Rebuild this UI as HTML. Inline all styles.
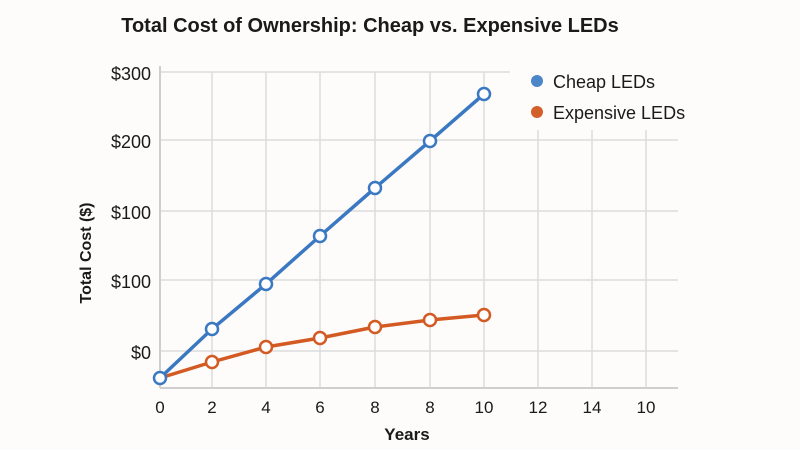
<!DOCTYPE html>
<html><head><meta charset="utf-8"><style>
html,body{margin:0;padding:0;background:#fdfcfa;}
svg{display:block;font-family:"Liberation Sans",sans-serif;}
</style></head><body>
<svg width="800" height="450" viewBox="0 0 800 450">
<rect width="800" height="450" fill="#fdfcfa"/>
<text x="370" y="32" text-anchor="middle" font-size="20" font-weight="bold" fill="#1a1a1a">Total Cost of Ownership: Cheap vs. Expensive LEDs</text>
<g stroke="#dcdcdc" stroke-width="1.5">
<line x1="160" y1="72" x2="510" y2="72"/>
<line x1="160" y1="140" x2="678" y2="140"/>
<line x1="160" y1="211" x2="678" y2="211"/>
<line x1="160" y1="280" x2="678" y2="280"/>
<line x1="160" y1="351" x2="678" y2="351"/>
<line x1="212" y1="72" x2="212" y2="388"/>
<line x1="266" y1="72" x2="266" y2="388"/>
<line x1="320" y1="72" x2="320" y2="388"/>
<line x1="375" y1="72" x2="375" y2="388"/>
<line x1="430" y1="72" x2="430" y2="388"/>
<line x1="484" y1="72" x2="484" y2="388"/>
<line x1="538" y1="130" x2="538" y2="388"/>
<line x1="592" y1="130" x2="592" y2="388"/>
<line x1="646" y1="130" x2="646" y2="388"/>
</g>
<line x1="160" y1="66" x2="160" y2="388" stroke="#cfcfcf" stroke-width="2"/>
<line x1="160" y1="388" x2="678" y2="388" stroke="#cfcfcf" stroke-width="2"/>
<g font-size="18" fill="#1a1a1a" text-anchor="end">
<text x="151" y="80">$300</text>
<text x="151" y="148">$200</text>
<text x="151" y="219">$100</text>
<text x="151" y="288">$100</text>
<text x="151" y="359">$0</text>
</g>
<g font-size="17" fill="#1a1a1a" text-anchor="middle">
<text x="160" y="413">0</text><text x="212" y="413">2</text><text x="266" y="413">4</text>
<text x="320" y="413">6</text><text x="375" y="413">8</text><text x="430" y="413">8</text>
<text x="484" y="413">10</text><text x="538" y="413">12</text><text x="592" y="413">14</text>
<text x="646" y="413">10</text>
</g>
<text x="407" y="440" text-anchor="middle" font-size="17" font-weight="bold" fill="#1a1a1a">Years</text>
<text transform="translate(91,253) rotate(-90)" text-anchor="middle" font-size="16" font-weight="bold" fill="#1a1a1a">Total Cost ($)</text>
<polyline points="160,378 212,362 266,347 320,338 375,327 430,320 484,315" fill="none" stroke="#d35a22" stroke-width="3.5"/>
<polyline points="160,378 212,329 266,284 320,236 375,188 430,141 484,94" fill="none" stroke="#3b78c2" stroke-width="3.5"/>
<g fill="#fff" stroke="#d35a22" stroke-width="2.5">
<circle cx="212" cy="362" r="6"/><circle cx="266" cy="347" r="6"/><circle cx="320" cy="338" r="6"/>
<circle cx="375" cy="327" r="6"/><circle cx="430" cy="320" r="6"/><circle cx="484" cy="315" r="6"/>
</g>
<g fill="#fff" stroke="#3b78c2" stroke-width="2.5">
<circle cx="160" cy="378" r="6"/><circle cx="212" cy="329" r="6"/><circle cx="266" cy="284" r="6"/>
<circle cx="320" cy="236" r="6"/><circle cx="375" cy="188" r="6"/><circle cx="430" cy="141" r="6"/>
<circle cx="484" cy="94" r="6"/>
</g>
<circle cx="537" cy="81" r="6" fill="#4a86c8"/>
<circle cx="537" cy="112" r="6" fill="#d3602a"/>
<text x="553" y="88" font-size="18" fill="#1a1a1a">Cheap LEDs</text>
<text x="553" y="119" font-size="18" fill="#1a1a1a">Expensive LEDs</text>
</svg>
</body></html>
